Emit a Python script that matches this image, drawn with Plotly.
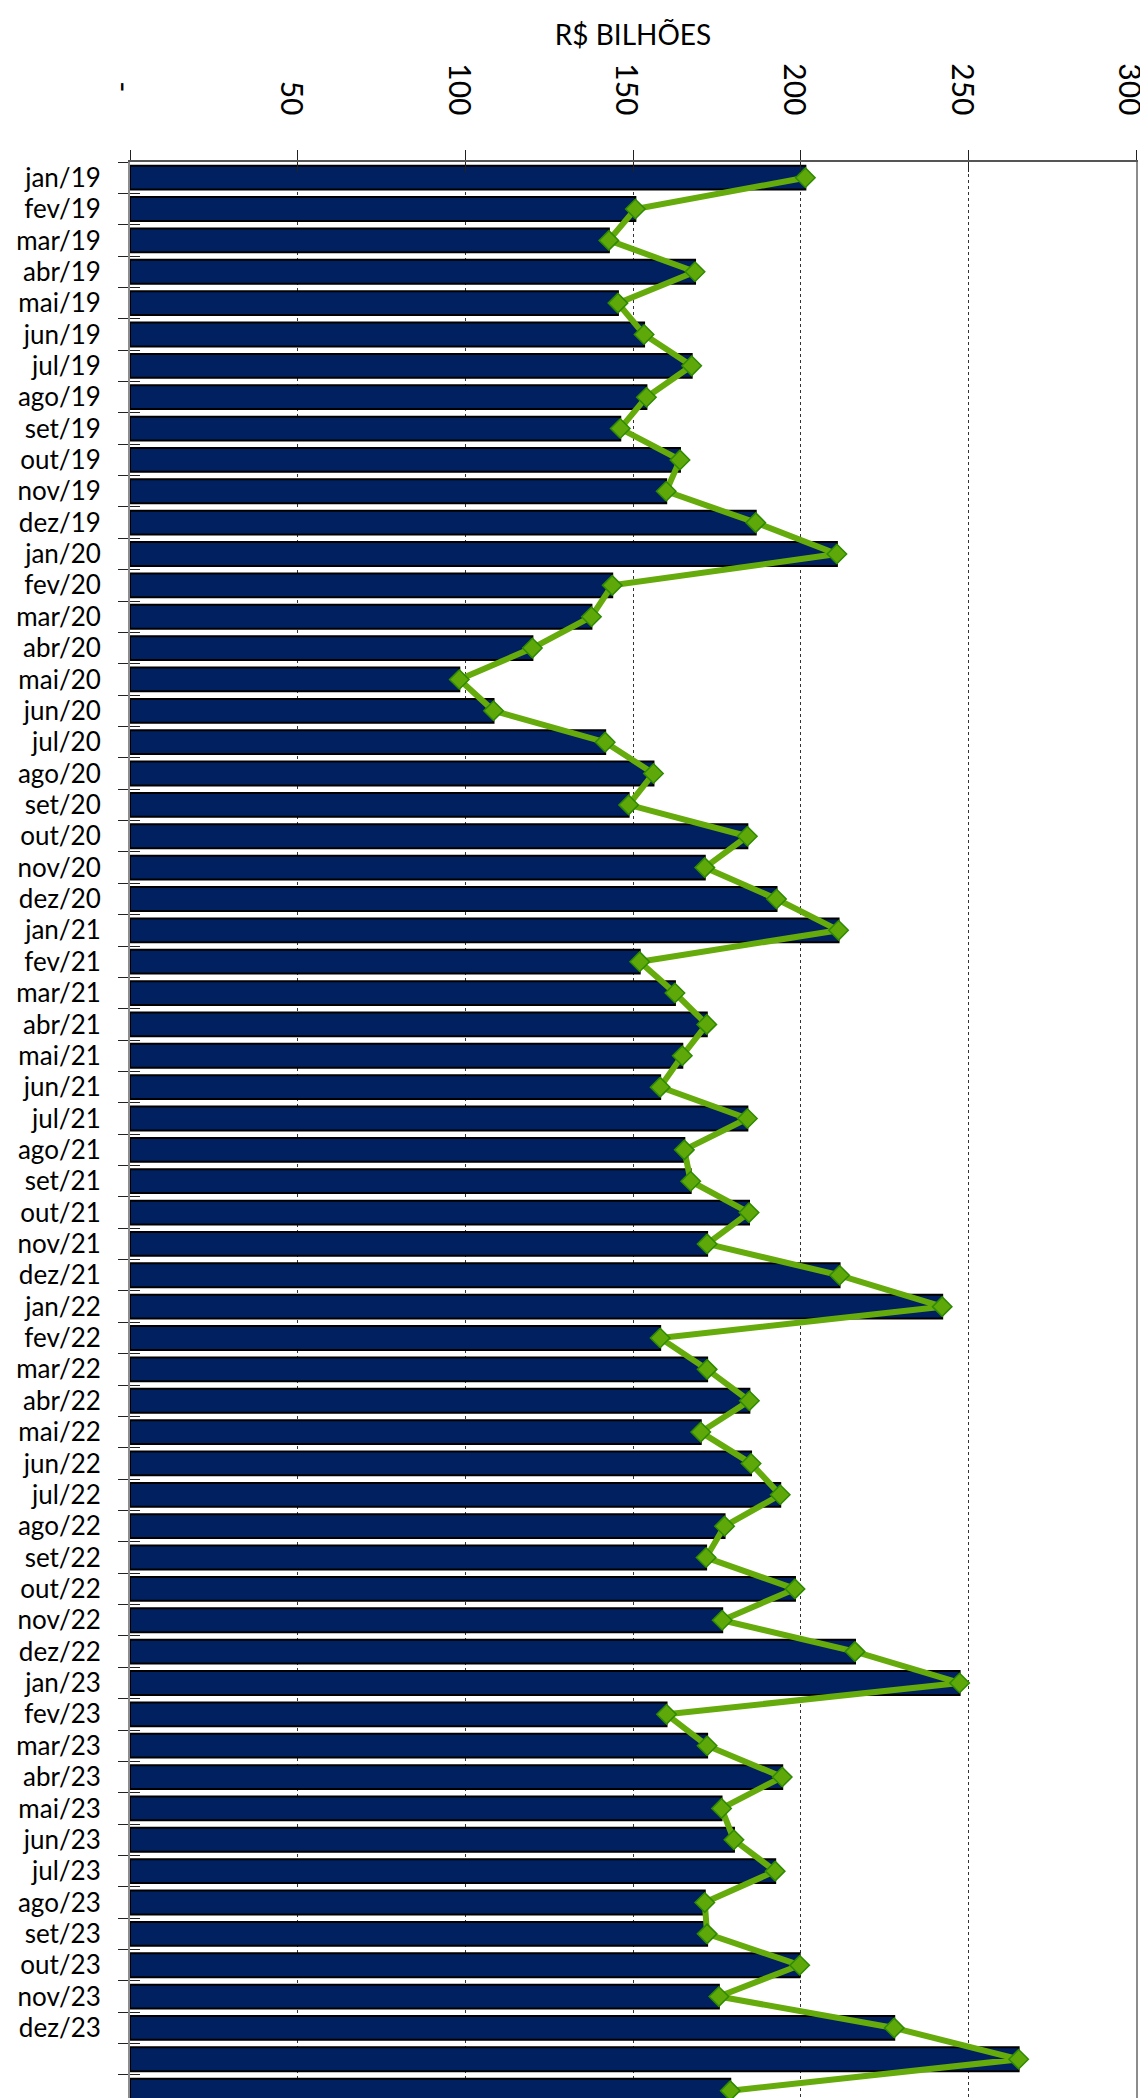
import plotly.graph_objects as go

# ---- data ----
month_labels = [
    "jan/19", "fev/19", "mar/19", "abr/19", "mai/19", "jun/19", "jul/19", "ago/19", "set/19", "out/19", "nov/19", "dez/19",
    "jan/20", "fev/20", "mar/20", "abr/20", "mai/20", "jun/20", "jul/20", "ago/20", "set/20", "out/20", "nov/20", "dez/20",
    "jan/21", "fev/21", "mar/21", "abr/21", "mai/21", "jun/21", "jul/21", "ago/21", "set/21", "out/21", "nov/21", "dez/21",
    "jan/22", "fev/22", "mar/22", "abr/22", "mai/22", "jun/22", "jul/22", "ago/22", "set/22", "out/22", "nov/22", "dez/22",
    "jan/23", "fev/23", "mar/23", "abr/23", "mai/23", "jun/23", "jul/23", "ago/23", "set/23", "out/23", "nov/23", "dez/23",
]
# two final periods have no visible label in the reference
unlabeled = ["\u200b", "\u200b\u200b"]
categories = month_labels + unlabeled

values_2019 = [201.4, 150.7, 142.8, 168.5, 145.5, 153.3, 167.5, 154.0, 146.2, 164.0, 159.9, 186.6]
values_2020 = [210.8, 143.8, 137.6, 120.0, 98.2, 108.4, 141.7, 156.1, 148.7, 184.1, 171.4, 192.8]
values_2021 = [211.3, 152.0, 162.5, 172.0, 164.7, 158.1, 184.1, 165.3, 167.2, 184.6, 172.1, 211.6]
values_2022 = [242.2, 158.1, 172.1, 184.7, 170.2, 185.2, 193.9, 177.3, 171.8, 198.3, 176.6, 216.2]
values_2023 = [247.4, 160.0, 172.1, 194.5, 176.4, 180.1, 192.4, 171.4, 172.1, 199.7, 175.6, 227.9]
values_2024 = [265.0, 179.0]
values = values_2019 + values_2020 + values_2021 + values_2022 + values_2023 + values_2024

x_tickvals = [0, 50, 100, 150, 200, 250, 300]
x_ticktext = ["-\u00a0\u00a0\u00a0", "50", "100", "150", "200", "250", "300"]

FONT = "Lato"
n = len(categories)
y_range = [n - 0.67, -0.5]
x_range = [0, 300.0001]
boundaries = [i - 0.5 for i in range(n + 1)]

fig = go.Figure()
fig.add_trace(go.Bar(
    y=categories, x=values, orientation="h",
    marker=dict(color="#002060", line=dict(color="#000000", width=2)),
    showlegend=False, hoverinfo="skip",
))
fig.add_trace(go.Scatter(
    y=categories, x=values, mode="lines+markers",
    line=dict(color="#66AB0C", width=6),
    marker=dict(symbol="diamond", size=15, color="#5FA80A",
                line=dict(color="#2E8A00", width=1.5)),
    showlegend=False, hoverinfo="skip",
))
# empty trace so the overlay axes (inner halves of the crossing ticks) get drawn
fig.add_trace(go.Scatter(x=[None], y=[None], xaxis="x2", yaxis="y2",
                         mode="markers", showlegend=False, hoverinfo="skip"))

fig.update_layout(
    width=1148, height=2098,
    margin=dict(l=122, r=20, t=154, b=0),
    plot_bgcolor="white", paper_bgcolor="white",
    bargap=0.24,
    font=dict(family=FONT, color="black"),
    title=dict(text="R$ BILHÕES", x=0.5, xref="paper", xanchor="center",
               y=1 - 27 / 2098, yref="container", yanchor="middle",
               font=dict(family=FONT, size=28, color="black")),
    xaxis=dict(
        side="top", range=x_range, tickmode="array",
        tickvals=x_tickvals, ticktext=x_ticktext, tickangle=90,
        tickfont=dict(family=FONT, size=30, color="black"),
        ticks="outside", ticklen=10, tickcolor="#222", tickwidth=1,
        ticklabelstandoff=24, ticklabelshift=-7, ticklabeloverflow="allow",
        showgrid=True, gridcolor="#333333", gridwidth=1, griddash="dot",
        zeroline=False,
        showline=True, linecolor="#555555", linewidth=2,
    ),
    xaxis2=dict(
        overlaying="x", side="top", range=x_range, tickmode="array",
        tickvals=x_tickvals, showticklabels=False,
        ticks="inside", ticklen=10, tickcolor="#222", tickwidth=1,
        showgrid=False, zeroline=False, showline=False,
    ),
    yaxis=dict(
        type="category", range=y_range, tickson="boundaries",
        tickmode="linear", tick0=0, dtick=1,
        ticks="outside", ticklen=10, tickcolor="#222", tickwidth=1,
        tickfont=dict(family=FONT, size=26, color="black"),
        ticklabelstandoff=22, ticklabeloverflow="allow",
        showgrid=False, zeroline=False,
        showline=True, linecolor="#8c8c8c", linewidth=2, mirror=True,
    ),
    yaxis2=dict(
        overlaying="y", type="linear", range=y_range, tickmode="array",
        tickvals=boundaries, showticklabels=False,
        ticks="inside", ticklen=10, tickcolor="#222", tickwidth=1,
        showgrid=False, zeroline=False, showline=False,
    ),
)

fig.write_html("out.html")
